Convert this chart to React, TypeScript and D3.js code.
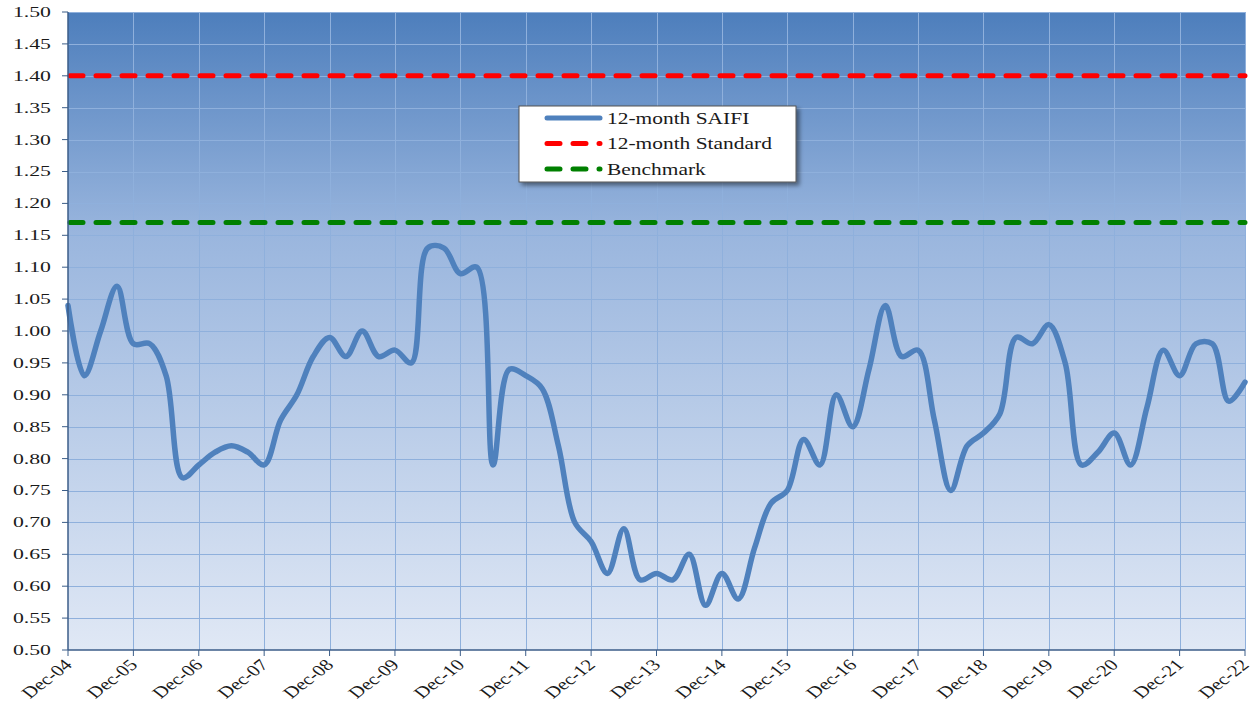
import React, { useEffect, useRef } from 'react';
import * as d3 from 'd3';

// Year-end tick labels (one every four quarters)
const yearLabels = [
  'Dec-04', 'Dec-05', 'Dec-06', 'Dec-07', 'Dec-08', 'Dec-09', 'Dec-10',
  'Dec-11', 'Dec-12', 'Dec-13', 'Dec-14', 'Dec-15', 'Dec-16', 'Dec-17',
  'Dec-18', 'Dec-19', 'Dec-20', 'Dec-21', 'Dec-22',
];

// Rolling 12-month SAIFI, quarterly from Dec-04 to Dec-22
const saifi = [
  1.04, 0.93, 1.00, 1.07,
  0.98, 0.98, 0.93, 0.77,
  0.79, 0.81, 0.82, 0.81,
  0.79, 0.86, 0.90, 0.96,
  0.99, 0.96, 1.00, 0.96,
  0.97, 0.95, 1.13, 1.13,
  1.09, 1.10, 0.79, 0.94,
  0.93, 0.91, 0.82, 0.70,
  0.67, 0.62, 0.69, 0.61,
  0.62, 0.61, 0.65, 0.57,
  0.62, 0.58, 0.66, 0.73,
  0.75, 0.83, 0.79, 0.90,
  0.85, 0.94, 1.04, 0.96,
  0.97, 0.86, 0.75, 0.82,
  0.84, 0.87, 0.99, 0.98,
  1.01, 0.95, 0.79, 0.81,
  0.84, 0.79, 0.88, 0.97,
  0.93, 0.98, 0.98, 0.89,
  0.92,
];

const standardValue = 1.40;
const benchmarkValue = 1.17;

const yTickValues = [
  0.50, 0.55, 0.60, 0.65, 0.70, 0.75, 0.80, 0.85, 0.90, 0.95, 1.00,
  1.05, 1.10, 1.15, 1.20, 1.25, 1.30, 1.35, 1.40, 1.45, 1.50,
];

const legendItems = [
  { label: '12-month SAIFI', color: '#4f81bd', dashed: false },
  { label: '12-month Standard', color: '#ff0000', dashed: true },
  { label: 'Benchmark', color: '#008000', dashed: true },
];

const W = 1255;
const H = 706;
const plot = { left: 68, right: 1245, top: 12, bottom: 650 };
const FONT = '"Liberation Serif", "Times New Roman", serif';

export default function App() {
  const ref = useRef<SVGSVGElement>(null);

  useEffect(() => {
    const svg = d3.select(ref.current);
    svg.selectAll('*').remove();

    const x = d3.scaleLinear().domain([0, saifi.length - 1]).range([plot.left, plot.right]);
    const y = d3.scaleLinear().domain([0.5, 1.5]).range([plot.bottom, plot.top]);

    const defs = svg.append('defs');
    const grad = defs.append('linearGradient')
      .attr('id', 'bgGrad').attr('x1', 0).attr('y1', 0).attr('x2', 0).attr('y2', 1);
    grad.append('stop').attr('offset', '0%').attr('stop-color', '#4d7ebc');
    grad.append('stop').attr('offset', '35%').attr('stop-color', '#9ab6de');
    grad.append('stop').attr('offset', '100%').attr('stop-color', '#e0e8f5');

    const shadow = defs.append('filter').attr('id', 'legendShadow')
      .attr('x', '-10%').attr('y', '-10%').attr('width', '130%').attr('height', '150%');
    shadow.append('feDropShadow')
      .attr('dx', 3).attr('dy', 3).attr('stdDeviation', 2)
      .attr('flood-color', '#000').attr('flood-opacity', 0.45);

    // plot background
    svg.append('rect')
      .attr('x', plot.left).attr('y', plot.top)
      .attr('width', plot.right - plot.left).attr('height', plot.bottom - plot.top)
      .attr('fill', 'url(#bgGrad)');

    // gridlines
    const grid = svg.append('g').attr('stroke', '#8fb0dc').attr('stroke-width', 1);
    grid.selectAll('line.h').data(yTickValues.slice(1)).join('line')
      .attr('x1', plot.left).attr('x2', plot.right)
      .attr('y1', (d) => Math.round(y(d)) + 0.5).attr('y2', (d) => Math.round(y(d)) + 0.5);
    grid.selectAll('line.v').data(yearLabels.slice(1)).join('line')
      .attr('x1', (_, i) => Math.round(x((i + 1) * 4)) + 0.5)
      .attr('x2', (_, i) => Math.round(x((i + 1) * 4)) + 0.5)
      .attr('y1', plot.top).attr('y2', plot.bottom);

    // reference lines
    const refLine = (v: number, color: string) =>
      svg.append('line')
        .attr('x1', plot.left + 2).attr('x2', plot.right)
        .attr('y1', y(v)).attr('y2', y(v))
        .attr('stroke', color).attr('stroke-width', 5)
        .attr('stroke-dasharray', '13 13').attr('stroke-linecap', 'round');
    refLine(standardValue, '#ff0000');
    refLine(benchmarkValue, '#008000');

    // SAIFI line
    const line = d3.line<number>()
      .x((_, i) => x(i)).y((d) => y(d))
      .curve(d3.curveCatmullRom.alpha(0.5));
    svg.append('path').datum(saifi)
      .attr('d', line)
      .attr('fill', 'none').attr('stroke', '#4f81bd')
      .attr('stroke-width', 5.5).attr('stroke-linejoin', 'round').attr('stroke-linecap', 'round');

    // axes
    const axisColor = '#3b5d88';
    const yAxis = svg.append('g');
    yAxis.append('line')
      .attr('x1', plot.left).attr('x2', plot.left)
      .attr('y1', plot.top).attr('y2', plot.bottom)
      .attr('stroke', axisColor).attr('stroke-width', 1.5);
    yAxis.selectAll('line.t').data(yTickValues).join('line')
      .attr('x1', plot.left - 6).attr('x2', plot.left)
      .attr('y1', (d) => y(d)).attr('y2', (d) => y(d))
      .attr('stroke', axisColor).attr('stroke-width', 1);
    yAxis.selectAll('text').data(yTickValues).join('text')
      .attr('transform', (d) => `translate(51,${y(d)}) scale(1.45,1)`)
      .attr('dy', '0.33em')
      .attr('text-anchor', 'end')
      .attr('font-family', FONT).attr('font-size', 15).attr('fill', '#1a1a1a')
      .text((d) => d3.format('.2f')(d));

    const xAxis = svg.append('g');
    xAxis.append('line')
      .attr('x1', plot.left).attr('x2', plot.right)
      .attr('y1', plot.bottom).attr('y2', plot.bottom)
      .attr('stroke', axisColor).attr('stroke-width', 1.5);
    xAxis.selectAll('line.t').data(yearLabels).join('line')
      .attr('x1', (_, i) => x(i * 4)).attr('x2', (_, i) => x(i * 4))
      .attr('y1', plot.bottom).attr('y2', plot.bottom + 6)
      .attr('stroke', axisColor).attr('stroke-width', 1);
    xAxis.selectAll('text').data(yearLabels).join('text')
      .attr('transform', (_, i) => `translate(${x(i * 4)},${plot.bottom + 12}) scale(1.3,1) rotate(-45)`)
      .attr('dy', '0.35em')
      .attr('text-anchor', 'end')
      .attr('font-family', FONT).attr('font-size', 16).attr('fill', '#1a1a1a')
      .text((d) => d);

    // legend
    const lg = svg.append('g').attr('transform', 'translate(519,106)');
    lg.append('rect')
      .attr('width', 277).attr('height', 76)
      .attr('fill', '#ffffff').attr('stroke', '#555').attr('stroke-width', 1)
      .attr('filter', 'url(#legendShadow)');
    const rows = lg.selectAll('g.row').data(legendItems).join('g')
      .attr('transform', (_, i) => `translate(0,${12 + i * 25.5})`);
    rows.append('line')
      .attr('x1', 28).attr('x2', 81).attr('y1', 0).attr('y2', 0)
      .attr('stroke', (d) => d.color).attr('stroke-width', 5)
      .attr('stroke-linecap', 'round')
      .attr('stroke-dasharray', (d) => (d.dashed ? '13 13' : null));
    rows.append('text')
      .attr('transform', 'translate(88,0) scale(1.34,1)')
      .attr('dy', '0.35em')
      .attr('font-family', FONT).attr('font-size', 16).attr('fill', '#1a1a1a')
      .text((d) => d.label);
  }, []);

  return (
    <svg
      ref={ref}
      width={W}
      height={H}
      style={{ position: 'absolute', left: 0, top: 0, background: '#ffffff' }}
    />
  );
}
